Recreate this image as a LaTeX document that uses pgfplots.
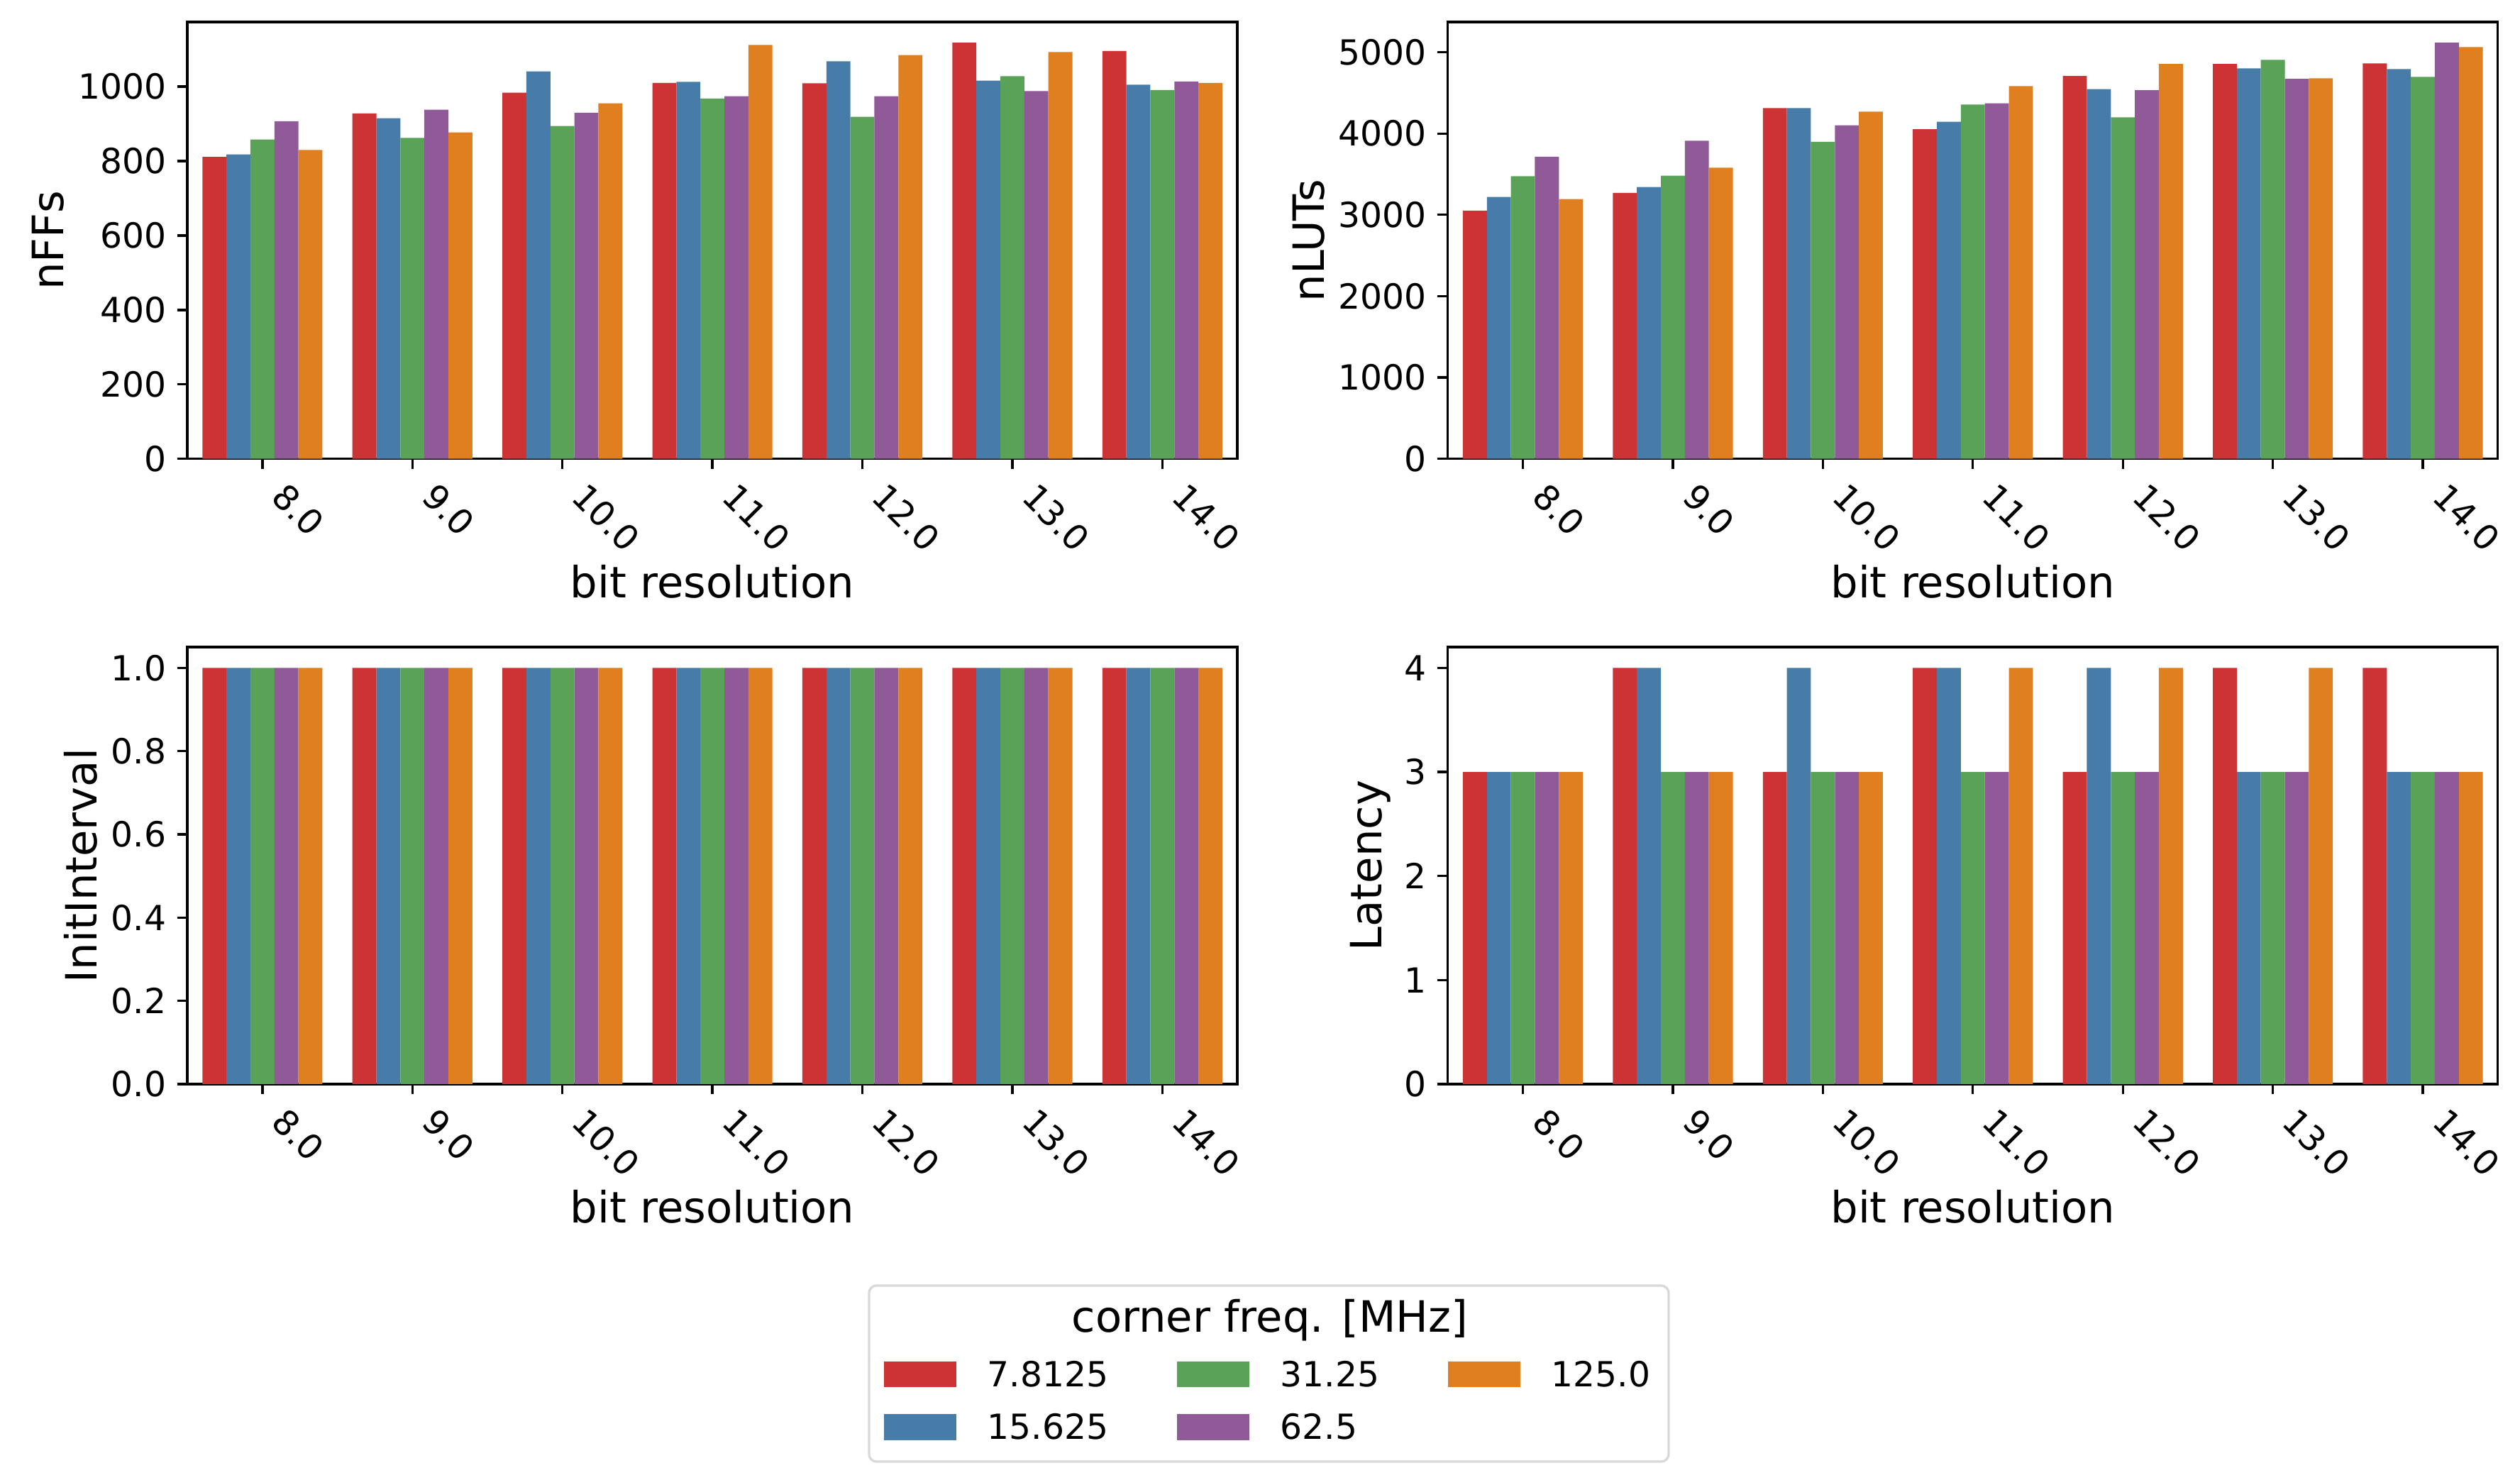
\documentclass[border=0pt]{standalone}
\usepackage{pgfplots}
\usepackage{pgfplotstable}
\pgfplotsset{compat=1.18}
\usepackage{fontspec}
\setmainfont{DejaVu Sans}
\definecolor{cred}{HTML}{CB3335}
\definecolor{cblue}{HTML}{477CA8}
\definecolor{cgreen}{HTML}{59A257}
\definecolor{cpurple}{HTML}{905998}
\definecolor{corange}{HTML}{DF7F20}
\newcommand{\ticksize}{\fontsize{11.7bp}{14bp}\selectfont}
\newcommand{\labsize}{\fontsize{14.6bp}{17bp}\selectfont}

\pgfplotstableread{
x r b g p o
0 811 818 858 907 830
1 928 915 862 938 877
2 984 1041 894 930 955
3 1010 1013 968 974 1112
4 1009 1068 919 974 1085
5 1118 1016 1028 988 1093
6 1096 1005 991 1014 1010
}\nffs
\pgfplotstableread{
x r b g p o
0 3052 3220 3474 3716 3193
1 3271 3341 3482 3911 3579
2 4313 4313 3899 4102 4270
3 4052 4145 4356 4372 4582
4 4707 4547 4200 4532 4856
5 4856 4801 4906 4672 4680
6 4863 4793 4696 5117 5062
}\nluts
\pgfplotstableread{
x r b g p o
0 1 1 1 1 1
1 1 1 1 1 1
2 1 1 1 1 1
3 1 1 1 1 1
4 1 1 1 1 1
5 1 1 1 1 1
6 1 1 1 1 1
}\initint
\pgfplotstableread{
x r b g p o
0 3 3 3 3 3
1 4 4 3 3 3
2 3 4 3 3 3
3 4 4 3 3 4
4 3 4 3 3 4
5 4 3 3 3 4
6 4 3 3 3 3
}\latency

\pgfplotsset{
  panel/.style={
    scale only axis, width=355.2bp, height=147.8bp, anchor=north west,
    xmin=-0.5, xmax=6.5, ymin=0,
    xtick={0,...,6}, xticklabels={8.0,9.0,10.0,11.0,12.0,13.0,14.0},
    tick align=outside, xtick pos=left, ytick pos=left,
    major tick length=3.5bp,
    major tick style={black, line width=0.8bp},
    axis line style={line width=0.8bp},
    tick label style={font=\ticksize},
    xticklabel style={xshift=8.8bp, yshift=-3.7bp, rotate=-45, anchor=north west, inner sep=0pt},
    yticklabel style={inner sep=0pt, anchor=east, xshift=-3.5bp},
    label style={font=\labsize},
    xlabel={bit resolution},
    xlabel style={inner sep=0pt, yshift=-3.5bp},
    ylabel style={inner sep=0pt, inner ysep=4.5bp},
    /pgf/number format/assume math mode=true,
    /pgf/number format/1000 sep={},
  },
  br/.style={ybar, draw=none, fill=#1, bar width=0.16, forget plot},
}

\newcommand{\fivebars}[1]{%
  \addplot[br=cred, bar shift=-0.32] table[x=x,y=r] {#1};
  \addplot[br=cblue, bar shift=-0.16] table[x=x,y=b] {#1};
  \addplot[br=cgreen, bar shift=0] table[x=x,y=g] {#1};
  \addplot[br=cpurple, bar shift=0.16] table[x=x,y=p] {#1};
  \addplot[br=corange, bar shift=0.32] table[x=x,y=o] {#1};
}

\begin{document}
\begin{tikzpicture}
\path[use as bounding box] (0bp,0bp) rectangle (852.5bp,-500.6bp);

\begin{axis}[panel, at={(63.4bp,-7.4bp)}, ymax=1174, ytick={0,200,...,1000}, ylabel={nFFs}]
\fivebars{\nffs}
\end{axis}

\begin{axis}[panel, at={(489.8bp,-7.4bp)}, ymax=5373, ytick={0,1000,...,5000}, ylabel={nLUTs}]
\fivebars{\nluts}
\end{axis}

\begin{axis}[panel, at={(63.4bp,-218.9bp)}, ymax=1.05, ytick={0,0.2,...,1.0},
  yticklabel style={/pgf/number format/.cd, fixed, fixed zerofill, precision=1},
  ylabel={InitInterval}]
\fivebars{\initint}
\end{axis}

\begin{axis}[panel, at={(489.8bp,-218.9bp)}, ymax=4.2, ytick={0,1,2,3,4}, ylabel={Latency},
  legend image code/.code={\fill[#1] (0bp,-4.2bp) rectangle (24bp,4.2bp);},
  legend style={draw=none, fill=none, at={(axis description cs:-0.5374,-0.6333)}, anchor=north west,
    inner sep=0pt, row sep=9bp,
    nodes={inner sep=0pt, font=\ticksize, text height=8.5bp, text depth=0pt, anchor=west},
    /tikz/every odd column/.append style={column sep=10.5bp},
    /tikz/every even column/.append style={column sep=23.3bp}},
  legend columns=3]
\fivebars{\latency}
\addlegendimage{cred}\addlegendentry{7.8125}
\addlegendimage{cgreen}\addlegendentry{31.25}
\addlegendimage{corange}\addlegendentry{125.0}
\addlegendimage{cblue}\addlegendentry{15.625}
\addlegendimage{cpurple}\addlegendentry{62.5}
\end{axis}

\draw[line width=0.8bp, draw=black!15, rounded corners=2.5bp] (294bp,-434.9bp) rectangle (564.5bp,-494.4bp);
\node[anchor=base, font=\labsize, inner sep=0pt] at (429.6bp,-450.5bp) {corner freq. [MHz]};
\end{tikzpicture}
\end{document}
